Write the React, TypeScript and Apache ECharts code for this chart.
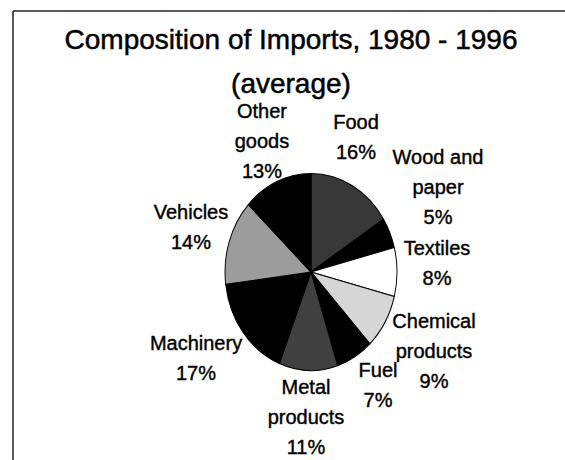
import React, { useEffect, useRef } from "react";
import * as echarts from "echarts";

const titleLines = ["Composition of Imports, 1980 - 1996", "(average)"];
const categories = [
  "Food",
  "Wood and paper",
  "Textiles",
  "Chemical products",
  "Fuel",
  "Metal products",
  "Machinery",
  "Vehicles",
  "Other goods",
];
const shares = [16, 5, 8, 9, 7, 11, 17, 14, 13];

// display line breaks for long names
const nameBreaks: Record<string, string> = {
  "Wood and paper": "Wood and\npaper",
  "Chemical products": "Chemical\nproducts",
  "Metal products": "Metal\nproducts",
  "Other goods": "Other\ngoods",
};

// label block centres (layout only)
const labelPos: [number, number][] = [
  [356, 137],
  [438, 187],
  [437, 263],
  [434, 351],
  [378, 385],
  [306, 417],
  [196, 358],
  [191, 227],
  [262, 141],
];

// slice fills (halftone shades of the original)
const sliceColors = [
  "#383838",
  "#000000",
  "#ffffff",
  "#d6d6d6",
  "#000000",
  "#404040",
  "#000000",
  "#9c9c9c",
  "#000000",
];

const FONT = "'Liberation Sans', Arial, Helvetica, sans-serif";
const PIE_CX = 311;
const PIE_CY = 272;
const PIE_R = 98.5;
const PIE_SCALE_X = 0.873;

export default function App() {
  const pieRef = useRef<HTMLDivElement>(null);
  const textRef = useRef<HTMLDivElement>(null);
  useEffect(() => {
    if (!pieRef.current || !textRef.current) return;
    const pie = echarts.init(pieRef.current, undefined, { renderer: "svg" });
    const txt = echarts.init(textRef.current, undefined, { renderer: "svg" });

    const data = categories.map((name, i) => ({ name, value: shares[i] }));

    pie.setOption({
      animation: false,
      series: [
        {
          type: "pie",
          center: [PIE_CX, PIE_CY],
          radius: PIE_R,
          startAngle: 90,
          clockwise: true,
          silent: true,
          itemStyle: { borderColor: "#000", borderWidth: 1.1 },
          label: { show: false },
          labelLine: { show: false },
          data: data.map((d, i) => ({
            ...d,
            itemStyle: { color: sliceColors[i] },
          })),
        },
      ],
    });

    txt.setOption({
      animation: false,
      backgroundColor: "transparent",
      graphic: [
        {
          type: "line",
          shape: { x1: 13, y1: 11, x2: 565, y2: 11 },
          style: { stroke: "#222", lineWidth: 1.5 },
          silent: true,
        },
        {
          type: "line",
          shape: { x1: 13, y1: 11, x2: 13, y2: 460 },
          style: { stroke: "#222", lineWidth: 1.5 },
          silent: true,
        },
        ...titleLines.map((t, i) => ({
          type: "text",
          x: 291,
          y: 39 + i * 44,
          silent: true,
          style: {
            text: t,
            fontFamily: FONT,
            fontSize: 28,
            fill: "#000",
            stroke: "#000",
            lineWidth: 0.5,
            textAlign: "center",
            textVerticalAlign: "middle",
          },
        })),
      ],
      series: [
        {
          type: "pie",
          center: [PIE_CX, PIE_CY],
          radius: PIE_R,
          startAngle: 90,
          clockwise: true,
          silent: true,
          avoidLabelOverlap: false,
          itemStyle: { color: "rgba(0,0,0,0)", borderWidth: 0 },
          label: {
            show: true,
            position: "outside",
            fontFamily: FONT,
            fontSize: 20,
            lineHeight: 30,
            color: "#000",
            textBorderColor: "#000",
            textBorderWidth: 0.4,
            formatter: (p: any) =>
              `${nameBreaks[p.name] ?? p.name}\n${p.value}%`,
          },
          labelLine: { show: false },
          labelLayout: (params: any) => {
            const pos = labelPos[params.dataIndex];
            return {
              x: pos[0],
              y: pos[1],
              align: "center",
              verticalAlign: "middle",
            };
          },
          emphasis: { disabled: true },
          data,
        },
      ],
    });
    return () => {
      pie.dispose();
      txt.dispose();
    };
  }, []);
  return (
    <div
      style={{
        position: "fixed",
        left: 0,
        top: 0,
        width: 565,
        height: 460,
        background: "#fff",
      }}
    >
      <div
        ref={pieRef}
        style={{
          position: "absolute",
          left: 0,
          top: 0,
          width: 565,
          height: 460,
          transform: `scaleX(${PIE_SCALE_X})`,
          transformOrigin: `${PIE_CX}px ${PIE_CY}px`,
        }}
      />
      <div
        ref={textRef}
        style={{ position: "absolute", left: 0, top: 0, width: 565, height: 460 }}
      />
    </div>
  );
}
